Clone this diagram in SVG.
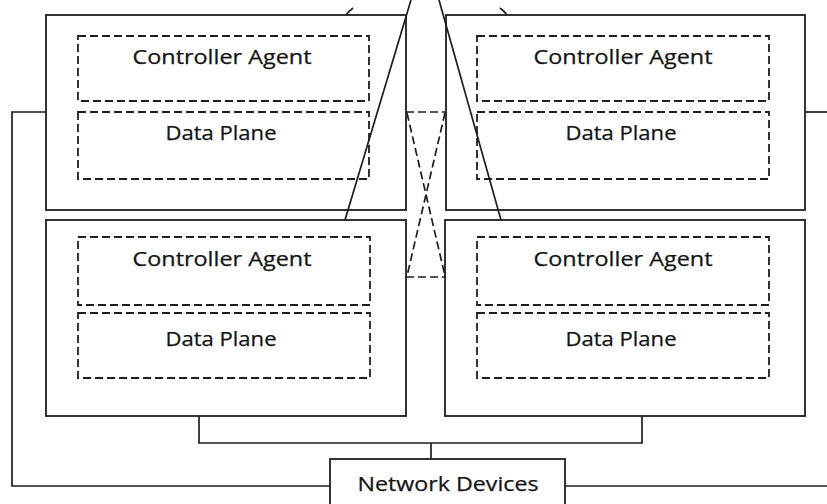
<svg xmlns="http://www.w3.org/2000/svg" width="827" height="504" viewBox="0 0 827 504">
  <style>
    .box { fill: #ffffff; stroke: #1e1e1e; stroke-width: 1.8; }
    .part { fill: none; stroke: #1e1e1e; stroke-width: 1.8; stroke-dasharray: 8 4; }
    .wire { fill: none; stroke: #1e1e1e; stroke-width: 1.7; }
    .dash { fill: none; stroke: #1e1e1e; stroke-width: 1.7; stroke-dasharray: 8 4; }
    .lbl { font-family: "Open Sans", "Noto Sans", "DejaVu Sans", sans-serif; font-size: 19.5px; fill: #141414; stroke: #141414; stroke-width: 0.25; text-anchor: middle; }
  </style>
  <rect width="827" height="504" fill="#ffffff"/>

  <g id="device-top-left">
    <rect class="box" x="46" y="15" width="360" height="195"/>
    <rect class="part" x="78" y="36" width="291" height="65"/>
    <text class="lbl" x="222" y="64" textLength="179" lengthAdjust="spacingAndGlyphs">Controller Agent</text>
    <rect class="part" x="78" y="112" width="291" height="67"/>
    <text class="lbl" x="221" y="140" textLength="111" lengthAdjust="spacingAndGlyphs">Data Plane</text>
  </g>

  <g id="device-top-right">
    <rect class="box" x="446" y="15" width="359" height="195"/>
    <rect class="part" x="477" y="36" width="292" height="65"/>
    <text class="lbl" x="623" y="64" textLength="179" lengthAdjust="spacingAndGlyphs">Controller Agent</text>
    <rect class="part" x="477" y="112" width="292" height="67"/>
    <text class="lbl" x="621" y="140" textLength="111" lengthAdjust="spacingAndGlyphs">Data Plane</text>
  </g>

  <g id="device-bottom-left">
    <rect class="box" x="46" y="220" width="360" height="196"/>
    <rect class="part" x="78" y="237" width="292" height="68"/>
    <text class="lbl" x="222" y="266" textLength="179" lengthAdjust="spacingAndGlyphs">Controller Agent</text>
    <rect class="part" x="78" y="313" width="292" height="65"/>
    <text class="lbl" x="221" y="346" textLength="111" lengthAdjust="spacingAndGlyphs">Data Plane</text>
  </g>

  <g id="device-bottom-right">
    <rect class="box" x="445" y="220" width="360" height="196"/>
    <rect class="part" x="477" y="237" width="292" height="68"/>
    <text class="lbl" x="623" y="266" textLength="179" lengthAdjust="spacingAndGlyphs">Controller Agent</text>
    <rect class="part" x="477" y="313" width="292" height="65"/>
    <text class="lbl" x="621" y="346" textLength="111" lengthAdjust="spacingAndGlyphs">Data Plane</text>
  </g>

  <g id="network-devices">
    <rect class="box" x="330" y="459" width="235" height="50"/>
    <text class="lbl" x="448" y="491" textLength="181" lengthAdjust="spacingAndGlyphs">Network Devices</text>
  </g>

  <!-- connectors, drawn over the device frames -->
  <g id="connectors">
    <!-- left management line to Network Devices -->
    <polyline class="wire" points="46,112 12,112 12,486 330,486"/>
    <!-- right-hand lines -->
    <polyline class="wire" points="805,112 827,112"/>
    <polyline class="wire" points="565,486 827,486"/>
    <!-- bus from lower devices -->
    <polyline class="wire" points="199,416 199,443 642,443 642,416"/>
    <line class="wire" x1="431" y1="443" x2="431" y2="459"/>
    <!-- dashed cross links between devices -->
    <line class="dash" x1="406" y1="112" x2="446" y2="112"/>
    <line class="dash" x1="406" y1="277" x2="446" y2="277"/>
    <line class="dash" x1="407" y1="113" x2="445" y2="276"/>
    <line class="dash" x1="445" y1="113" x2="407" y2="276"/>
    <!-- links rising to controllers above -->
    <line class="wire" x1="345" y1="220" x2="411" y2="0"/>
    <line class="wire" x1="439" y1="0" x2="501" y2="220"/>
    <path class="wire" d="M346,15 Q349,11 353,8"/>
    <path class="wire" d="M500,8 Q504,11 507,15"/>
  </g>
</svg>
